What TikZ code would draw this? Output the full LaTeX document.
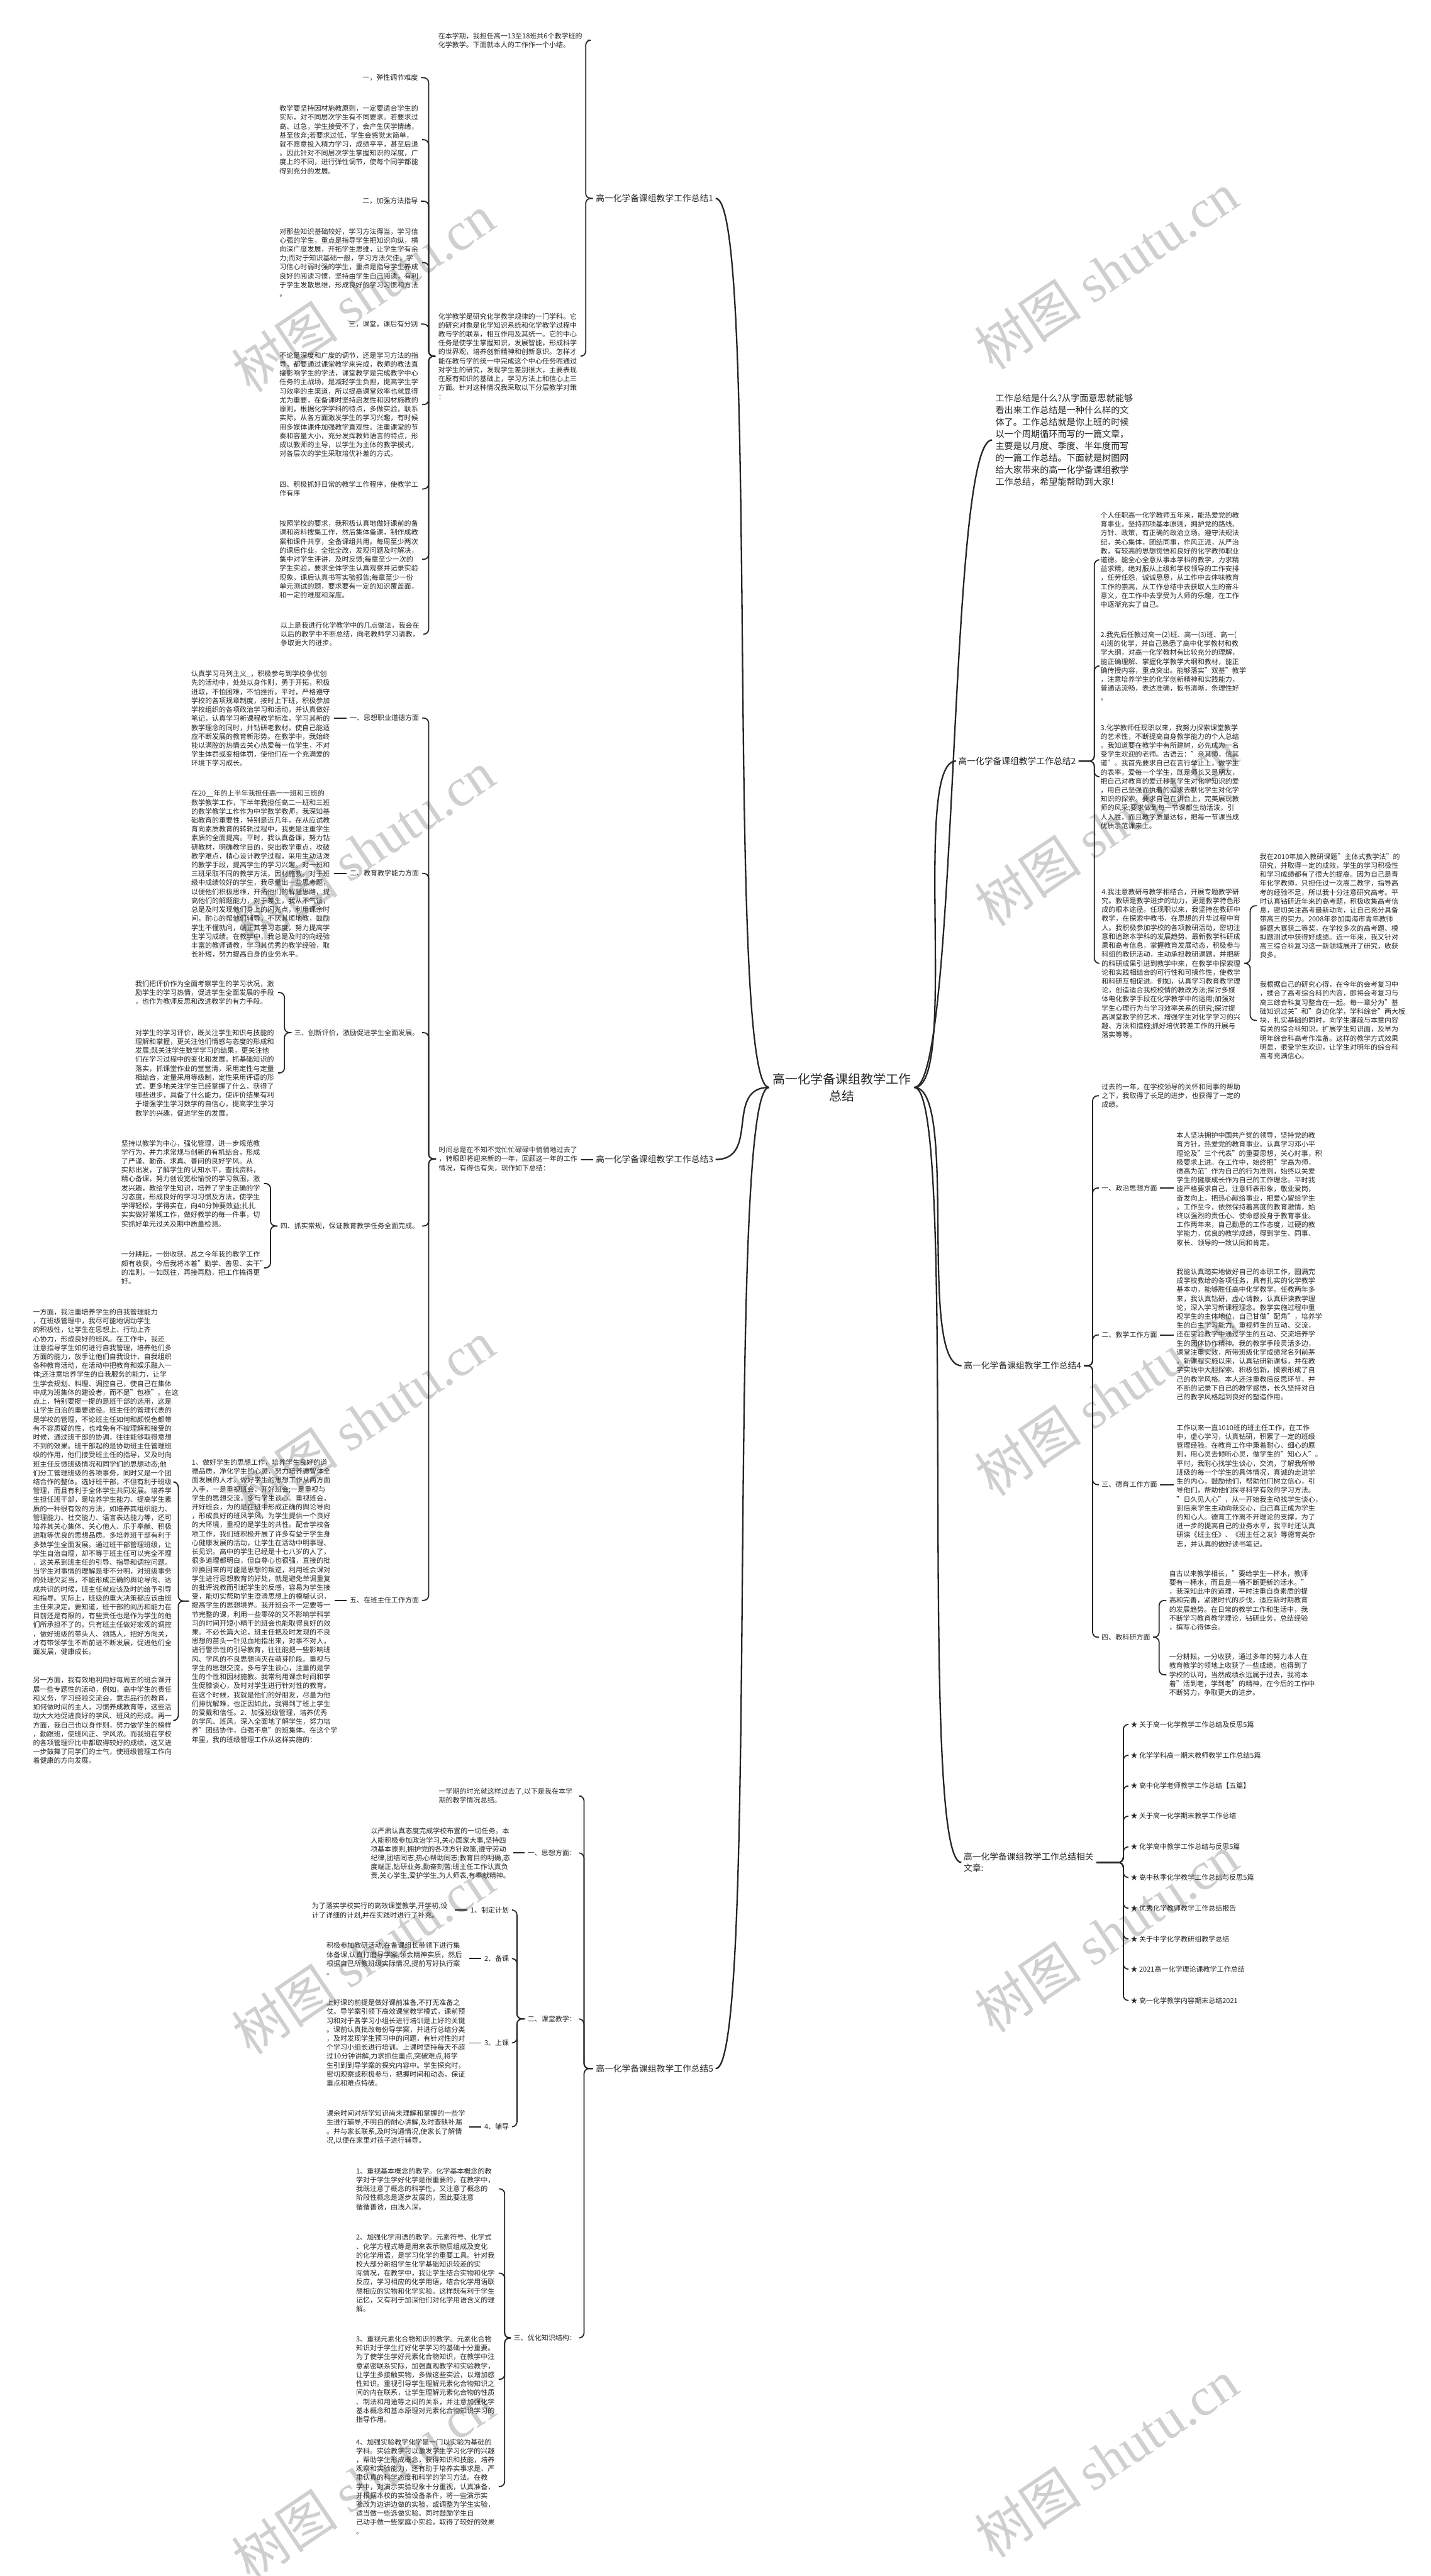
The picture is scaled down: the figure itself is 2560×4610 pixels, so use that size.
\documentclass[tikz,border=0pt]{standalone}
\usepackage{fontspec}
\setmainfont{Noto Sans CJK SC}
\newfontfamily\wmlat{Liberation Serif}
\usetikzlibrary{calc}
\newcommand\brL[3]{\draw[brk] let \p1=(#1.west), \p2=(#2.east) in (\x1-5pt,\y1) -- (#3pt,\y1) |- (\x2+5pt,\y2);}
\newcommand\brR[3]{\draw[brk] let \p1=(#1.east), \p2=(#2.west) in (\x1+5pt,\y1) -- (#3pt,\y1) |- (\x2-5pt,\y2);}
\newcommand\hL[2]{\draw[brk] let \p1=(#1.west), \p2=(#2.east) in (\x1-5pt,\y1) -- (\x2+5pt,\y1);}
\newcommand\hR[2]{\draw[brk] let \p1=(#1.east), \p2=(#2.west) in (\x1+5pt,\y1) -- (\x2-5pt,\y1);}
\begin{document}
\begin{tikzpicture}[x=1pt,y=-1pt,
 blk/.style={anchor=north west,inner sep=0pt,text width=250pt,align=left,font=\fontsize{12.4}{16}\selectfont,text=black!85},
 lab/.style={inner sep=0pt,font=\fontsize{12.4}{16}\selectfont,text=black!85},
 lvl/.style={inner sep=0pt,font=\fontsize{15.5}{20}\selectfont,text=black!85},
 ctrs/.style={inner sep=6pt,align=center,font=\fontsize{22.5}{30}\selectfont,text=black!85},
 brk/.style={draw=black!85,line width=2pt,rounded corners=9pt},
 mainc/.style={draw=black!85,line width=2.6pt},
 wm/.style={text=black!19,rotate=34,inner sep=0pt,font=\fontsize{96}{96}\selectfont}]
\useasboundingbox (0,0) rectangle (2560,4610);
\fill[white] (0,0) rectangle (2560,4610);
% watermarks
\foreach \wy in {525,1520,2540,3500,4440}{
  \node[wm] at (650,\wy) {树图 {\wmlat shutu.cn}};
  \node[wm] at (1980,\wy-40) {树图 {\wmlat shutu.cn}};
}
% centre
\node[ctrs] (ctr) at (1506,1946) {高一化学备课组教学工作\\总结};
% ================= branch 1
\node[lvl,anchor=west] (L1) at (1066,355) {高一化学备课组教学工作总结1};
\node[blk,text width=262pt] (b1i) at (784,58) {在本学期，我担任高一13至18班共6个教学班的\\化学教学。下面就本人的工作作一个小结。};
\node[blk] (chem) at (784,560) {化学教学是研究化学教学规律的一门学科。它\\的研究对象是化学知识系统和化学教学过程中\\教与学的联系，相互作用及其统一。它的中心\\任务是使学生掌握知识，发展智能，形成科学\\的世界观，培养创新精神和创新意识。怎样才\\能在教与学的统一中完成这个中心任务呢通过\\对学生的研究，发现学生差别很大，主要表现\\在原有知识的基础上，学习方法上和信心上三\\方面。针对这种情况我采取以下分层教学对策\\：};
\node[lab,anchor=east] (s1) at (748,139) {一，弹性调节难度};
\node[blk] (ba) at (500,188) {教学要坚持因材施教原则，一定要适合学生的\\实际，对不同层次学生有不同要求。若要求过\\高、过急，学生接受不了，会产生厌学情绪，\\甚至放弃;若要求过低，学生会感觉太简单，\\就不愿意投入精力学习，成绩平平，甚至后退\\。因此针对不同层次学生掌握知识的深度，广\\度上的不同，进行弹性调节，使每个同学都能\\得到充分的发展。};
\node[lab,anchor=east] (s2) at (748,360) {二，加强方法指导};
\node[blk] (bb) at (500,408) {对那些知识基础较好，学习方法得当，学习信\\心强的学生，重点是指导学生把知识向纵，横\\向深广度发展，开拓学生思维，让学生学有余\\力;而对于知识基础一般，学习方法欠佳，学\\习信心时弱时强的学生，重点是指导学生养成\\良好的阅读习惯，坚持由学生自己阅读，有利\\于学生发散思维，形成良好的学习习惯和方法\\。};
\node[lab,anchor=east] (s3) at (748,580) {三，课堂，课后有分别};
\node[blk] (bc) at (500,630) {不论是深度和广度的调节，还是学习方法的指\\导，都要通过课堂教学来完成，教师的教法直\\接影响学生的学法，课堂教学是完成教学中心\\任务的主战场，是减轻学生负担，提高学生学\\习效率的主渠道，所以提高课堂效率也就显得\\尤为重要，在备课时坚持启发性和因材施教的\\原则，根据化学学科的待点，多做实验，联系\\实际，从各方面激发学生的学习兴趣，有时候\\用多媒体课件加强教学直观性。注重课堂的节\\奏和容量大小，充分发挥教师语言的特点，形\\成以教师的主导，以学生为主体的教学模式，\\对各层次的学生采取培优补差的方式。};
\node[blk] (s4) at (500,861) {四、积极抓好日常的教学工作程序，使教学工\\作有序};
\node[blk] (bd) at (500,931) {按照学校的要求，我积极认真地做好课前的备\\课和资料搜集工作，然后集体备课，制作成教\\案和课件共享，全备课组共用。每周至少两次\\的课后作业，全批全改，发现问题及时解决，\\集中对学生评讲，及时反馈;每章至少一次的\\学生实验，要求全体学生认真观察并记录实验\\现象，课后认真书写实验报告;每章至少一份\\单元测试的题，要求要有一定的知识覆盖面，\\和一定的难度和深度。};
\node[blk] (be) at (502,1113) {以上是我进行化学教学中的几点做法，我会在\\以后的教学中不断总结，向老教师学习请教，\\争取更大的进步。};
\draw[mainc] (ctr.west) .. controls +(-80,0) and +(80,0) .. ([xshift=4pt]L1.east);
\brL{L1}{b1i}{1048}
\brL{L1}{chem}{1048}
\foreach \c in {s1,ba,s2,bb,s3,bc,s4,bd,be}{\brL{chem}{\c}{767}}
% ================= branch 3
\node[lvl,anchor=west] (L3) at (1066,2075) {高一化学备课组教学工作总结3};
\node[blk] (t) at (785,2052) {时间总是在不知不觉忙忙碌碌中悄悄地过去了\\，转眼即将迎来新的一年，回顾这一年的工作\\情况，有得也有失，现作如下总结：};
\draw[mainc] (ctr.west) .. controls +(-80,0) and +(80,0) .. ([xshift=4pt]L3.east);
\hL{L3}{t}
\node[lab,anchor=east] (m1) at (750,1285) {一、思想职业道德方面};
\node[blk] (m1b) at (342,1200) {认真学习马列主义\_，积极参与到学校争优创\\先的活动中，处处以身作则，勇于开拓，积极\\进取，不怕困难，不怕挫折。平时，严格遵守\\学校的各项规章制度，按时上下班，积极参加\\学校组织的各项政治学习和活动，并认真做好\\笔记，认真学习新课程教学标准，学习其新的\\教学理念的同时，并钻研老教材，使自己能适\\应不断发展的教育新形势。在教学中，我始终\\能以满腔的热情去关心热爱每一位学生，不对\\学生体罚或变相体罚，使他们在一个充满爱的\\环境下学习成长。};
\node[lab,anchor=east] (m2) at (750,1563) {二、教育教学能力方面};
\node[blk] (m2b) at (342,1414) {在20\_\_年的上半年我担任高一一班和三班的\\数学教学工作，下半年我担任高二一班和三班\\的数学教学工作作为中学数学教师，我深知基\\础教育的重要性，特别是近几年，在从应试教\\育向素质教育的转轨过程中，我更是注重学生\\素质的全面提高。平时，我认真备课，努力钻\\研教材，明确教学目的，突出教学重点，攻破\\教学难点，精心设计教学过程，采用生动活泼\\的教学手段，提高学生的学习兴趣。对一班和\\三班采取不同的教学方法，因材施教。对于班\\级中成绩较好的学生，我尽量出一些思考题，\\以便他们积极思维，开拓他们的解题思路，提\\高他们的解题能力，对于差生，我从不气馁，\\总是及时发现他们身上的闪光点，利用课余时\\间，耐心的帮他们辅导，不厌其烦地教，鼓励\\学生不懂就问，端正其学习态度，努力提高学\\生学习成绩。在教学中，我总是及时的向经验\\丰富的教师请教，学习其优秀的教学经验，取\\长补短，努力提高自身的业务水平。};
\node[lab,anchor=east] (m3) at (750,1848) {三、创新评价，激励促进学生全面发展。};
\node[blk] (m3a) at (242,1754) {我们把评价作为全面考察学生的学习状况，激\\励学生的学习热情，促进学生全面发展的手段\\，也作为教师反思和改进教学的有力手段。};
\node[blk] (m3b) at (242,1842) {对学生的学习评价，既关注学生知识与技能的\\理解和掌握，更关注他们情感与态度的形成和\\发展;既关注学生数学学习的结果，更关注他\\们在学习过程中的变化和发展。抓基础知识的\\落实，抓课堂作业的堂堂清，采用定性与定量\\相结合，定量采用等级制，定性采用评语的形\\式，更多地关注学生已经掌握了什么，获得了\\哪些进步，具备了什么能力。使评价结果有利\\于增强学生学习数学的自信心，提高学生学习\\数学的兴趣，促进学生的发展。};
\node[lab,anchor=east] (m4) at (750,2194) {四、抓实常规，保证教育教学任务全面完成。};
\node[blk] (m4a) at (217,2040) {坚持以教学为中心，强化管理，进一步规范教\\学行为，并力求常规与创新的有机结合，形成\\了严谨、勤奋、求真、善问的良好学风。从\\实际出发，了解学生的认知水平，查找资料，\\精心备课，努力创设宽松愉悦的学习氛围，激\\发兴趣，教给学生知识，培养了学生正确的学\\习态度，形成良好的学习习惯及方法，使学生\\学得轻松，学得实在，向40分钟要效益;扎扎\\实实做好常规工作，做好教学的每一件事，切\\实抓好单元过关及期中质量检测。};
\node[blk] (m4b) at (217,2239) {一分耕耘，一份收获。总之今年我的教学工作\\颇有收获，今后我将本着"勤学、善思、实干"\\的准则，一如既往，再接再励，把工作搞得更\\好。};
\node[lab,anchor=east] (m5) at (750,2864) {五、在班主任工作方面};
\node[blk] (m5b) at (343,2611) {1、做好学生的思想工作，培养学生良好的道\\德品质，净化学生的心灵，努力培养德智体全\\面发展的人才。做好学生的思想工作从两方面\\入手，一是重视班会，开好班会;一是重视与\\学生的思想交流，多与学生谈心。重视班会，\\开好班会，为的是在班中形成正确的舆论导向\\，形成良好的班风学风，为学生提供一个良好\\的大环境，重视的是学生的共性。配合学校各\\项工作，我们班积极开展了许多有益于学生身\\心健康发展的活动，让学生在活动中明事理、\\长见识。高中的学生已经是十七八岁的人了，\\很多道理都明白，但自尊心也很强，直接的批\\评换回来的可能是思想的叛逆，利用班会课对\\学生进行思想教育的好处，就是避免单调重复\\的批评说教而引起学生的反感，容易为学生接\\受，能切实帮助学生澄清思想上的模糊认识，\\提高学生的思想境界。我开班会不一定要等一\\节完整的课，利用一些零碎的又不影响学科学\\习的时间开短小精干的班会也能取得良好的效\\果。不必长篇大论，班主任把及时发现的不良\\思想的苗头一针见血地指出来，对事不对人，\\进行警示性的引导教育，往往能把一些影响班\\风、学风的不良思想消灭在萌芽阶段。重视与\\学生的思想交流，多与学生谈心，注重的是学\\生的个性和因材施教。我常利用课余时间和学\\生促膝谈心，及时对学生进行针对性的教育。\\在这个时候，我就是他们的好朋友，尽量为他\\们排忧解难，也正因如此，我得到了班上学生\\的爱戴和信任。2、加强班级管理，培养优秀\\的学风、班风，深入全面地了解学生，努力培\\养"团结协作，自强不息"的班集体。在这个学\\年里，我的班级管理工作从这样实施的：};
\node[blk] (m5c) at (59,2342) {一方面，我注重培养学生的自我管理能力\\，在班级管理中，我尽可能地调动学生\\的积极性，让学生在思想上、行动上齐\\心协力，形成良好的班风。在工作中，我还\\注意指导学生如何进行自我管理，培养他们多\\方面的能力，放手让他们自我设计、自我组织\\各种教育活动，在活动中把教育和娱乐融入一\\体;还注意培养学生的自我服务的能力，让学\\生学会规划、料理、调控自己，使自己在集体\\中成为班集体的建设者，而不是"包袱"。在这\\点上，特别要提一提的是班干部的选用，这是\\让学生自治的重要途径。班主任的管理代表的\\是学校的管理，不论班主任如何和颜悦色都带\\有不容质疑的性，也难免有不被理解和接受的\\时候，通过班干部的协调，往往能够取得意想\\不到的效果。班干部起的是协助班主任管理班\\级的作用，他们接受班主任的指导，又及时向\\班主任反馈班级情况和同学们的思想动态;他\\们分工管理班级的各项事务，同时又是一个团\\结合作的整体。选好班干部，不但有利于班级\\管理，而且有利于全体学生共同发展。培养学\\生担任班干部，是培养学生能力、提高学生素\\质的一种很有效的方法，如培养其组织能力、\\管理能力、社交能力、语言表达能力等，还可\\培养其关心集体、关心他人、乐于奉献、积极\\进取等优良的思想品质。多培养班干部有利于\\多数学生全面发展。通过班干部管理班级，让\\学生自治自理，却不等于班主任可以完全不理\\，这关系到班主任的引导、指导和调控问题。\\当学生对事情的理解是非不分明，对班级事务\\的处理欠妥当，不能形成正确的舆论导向、达\\成共识的时候，班主任就应该及时的给予引导\\和指导。实际上，班级的重大决策都应该由班\\主任来决定。要知道，班干部的阅历和能力在\\目前还是有限的，有些责任也是作为学生的他\\们所承担不了的。只有班主任做好宏观的调控\\，做好班级的带头人、领路人，把好方向关，\\才有带领学生不断前进不断发展，促进他们全\\面发展，健康成长。};
\node[blk] (m5d) at (59,3001) {另一方面，我有效地利用好每周五的班会课开\\展一些专题性的活动，例如，高中学生的责任\\和义务，学习经验交流会，意志品行的教育，\\如何做时间的主人，习惯养成教育等，这些活\\动大大地促进良好的学风、班风的形成。再一\\方面，我自己也以身作则，努力做学生的榜样\\，勤跟班，使班风正、学风浓。而我班在学校\\的各项管理评比中都取得较好的成绩，这又进\\一步鼓舞了同学们的士气，使班级管理工作向\\着健康的方向发展。};
\foreach \c in {m1,m2,m3,m4,m5}{\brL{t}{\c}{767}}
\hL{m1}{m1b}
\hL{m2}{m2b}
\brL{m3}{m3a}{509}
\brL{m3}{m3b}{509}
\brL{m4}{m4a}{484}
\brL{m4}{m4b}{484}
\hL{m5}{m5b}
\brL{m5b}{m5c}{319}
\brL{m5b}{m5d}{319}
% ================= branch 5
\node[lvl,anchor=west] (L5) at (1066,3702) {高一化学备课组教学工作总结5};
\draw[mainc] (ctr.west) .. controls +(-80,0) and +(80,0) .. ([xshift=4pt]L5.east);
\node[blk] (n0) at (785,3200) {一学期的时光就这样过去了,以下是我在本学\\期的教学情况总结。};
\node[lab,anchor=east] (n1) at (1031,3316) {一、思想方面：};
\node[blk] (n1b) at (663,3271) {以严肃认真态度完成学校布置的一切任务。本\\人能积极参加政治学习,关心国家大事,坚持四\\项基本原则,拥护党的各项方针政策,遵守劳动\\纪律,团结同志,热心帮助同志;教育目的明确,态\\度端正,钻研业务,勤奋刻苦;班主任工作认真负\\责,关心学生,爱护学生,为人师表,有奉献精神。};
\node[lab,anchor=east] (n2) at (1031,3613) {二、课堂教学：};
\node[lab,anchor=east] (n21) at (911,3418) {1、制定计划};
\node[blk] (n21b) at (558,3405) {为了落实学校实行的高效课堂教学,开学初,设\\计了详细的计划,并在实践时进行了补充。};
\node[lab,anchor=east] (n22) at (911,3505) {2、备课};
\node[blk] (n22b) at (584,3476) {积极参加教研活动,在备课组长带领下进行集\\体备课,认真打磨导学案,领会精神实质，然后\\根据自己所教班级实际情况,提前写好执行案\\。};
\node[lab,anchor=east] (n23) at (911,3656) {3、上课};
\node[blk] (n23b) at (584,3578) {上好课的前提是做好课前准备,不打无准备之\\仗。导学案引领下高效课堂教学模式，课前预\\习和对于各学习小组长进行培训是上好的关键\\。课前认真批改每份导学案，并进行总结分类\\，及时发现学生预习中的问题，有针对性的对\\个学习小组长进行培训。上课时坚持每天不超\\过10分钟讲解,力求抓住重点,突破难点,将学\\生引到到导学案的探究内容中。学生探究时，\\密切观察或积极参与，把握时间和动态，保证\\重点和难点特破。};
\node[lab,anchor=east] (n24) at (911,3806) {4、辅导};
\node[blk] (n24b) at (584,3776) {课余时间对所学知识尚未理解和掌握的一些学\\生进行辅导,不明白的耐心讲解,及时查缺补漏\\。并与家长联系,及时沟通情况,使家长了解情\\况,以便在家里对孩子进行辅导。};
\node[lab,anchor=east] (n3) at (1031,4184) {三、优化知识结构：};
\node[blk] (n31) at (637,3879) {1、重视基本概念的教学。化学基本概念的教\\学对于学生学好化学是很重要的，在教学中，\\我既注意了概念的科学性，又注意了概念的\\阶段性概念是逐步发展的，因此要注意\\循循善诱，由浅入深。};
\node[blk] (n32) at (637,3998) {2、加强化学用语的教学。元素符号、化学式\\、化学方程式等是用来表示物质组成及变化\\的化学用语，是学习化学的重要工具。针对我\\校大部分新招学生化学基础知识较差的实\\际情况，在教学中，我让学生结合实物和化学\\反应，学习相应的化学用语，结合化学用语联\\想相应的实物和化学实验。这样既有利于学生\\记忆，又有利于加深他们对化学用语含义的理\\解。};
\node[blk] (n33) at (637,4180) {3、重视元素化合物知识的教学。元素化合物\\知识对于学生打好化学学习的基础十分重要。\\为了使学生学好元素化合物知识，在教学中注\\意紧密联系实际，加强直观教学和实验教学，\\让学生多接触实物，多做这些实验，以增加感\\性知识。重视引导学生理解元素化合物知识之\\间的内在联系，让学生理解元素化合物的性质\\、制法和用途等之间的关系，并注意加强化学\\基本概念和基本原理对元素化合物知识学习的\\指导作用。};
\node[blk] (n34) at (637,4364) {4、加强实验教学化学是一门以实验为基础的\\学科。实验教学可以激发学生学习化学的兴趣\\，帮助学生形成概念，获得知识和技能，培养\\观察和实验能力，还有助于培养实事求是、严\\肃认真的科学态度和科学的学习方法。在教\\学中，对演示实验现象十分重视，认真准备，\\并根据本校的实验设备条件，将一些演示实\\验改为边讲边做的实验，或调整为学生实验，\\适当做一些选做实验。同时鼓励学生自\\己动手做一些家庭小实验，取得了较好的效果\\。};
\foreach \c in {n0,n1,n2,n3}{\brL{L5}{\c}{1045}}
\hL{n1}{n1b}
\foreach \c in {n21,n22,n23,n24}{\brL{n2}{\c}{925}}
\hL{n21}{n21b}
\hL{n22}{n22b}
\hL{n23}{n23b}
\hL{n24}{n24b}
\foreach \c in {n31,n32,n33,n34}{\brL{n3}{\c}{903}}
% ================= intro (right)
\node[anchor=north west,inner sep=0pt,text width=262pt,align=left,font=\fontsize{15.9}{21.3}\selectfont,text=black!85] (intro) at (1781,705) {工作总结是什么?从字面意思就能够\\看出来工作总结是一种什么样的文\\体了。工作总结就是你上班的时候\\以一个周期循环而写的一篇文章，\\主要是以月度、季度、半年度而写\\的一篇工作总结。下面就是树图网\\给大家带来的高一化学备课组教学\\工作总结，希望能帮助到大家!};
\draw[mainc] (ctr.east) .. controls +(80,0) and +(-80,0) .. ([xshift=-6pt]intro.west);
% ================= branch 2
\node[lvl,anchor=east] (L2) at (1925,1362) {高一化学备课组教学工作总结2};
\draw[mainc] (ctr.east) .. controls +(80,0) and +(-80,0) .. ([xshift=-4pt]L2.west);
\node[blk] (r1) at (1969,916) {个人任职高一化学教师五年来，能热爱党的教\\育事业，坚持四项基本原则，拥护党的路线、\\方针、政策，有正确的政治立场。遵守法规法\\纪，关心集体，团结同事，作风正派，从严治\\教，有较高的思想觉悟和良好的化学教师职业\\道德。能全心全意从事本学科的教学，力求精\\益求精，绝对服从上级和学校领导的工作安排\\，任劳任怨，诚诚恳恳，从工作中去体味教育\\工作的崇高，从工作总结中去获取人生的奋斗\\意义，在工作中去享受为人师的乐趣，在工作\\中逐渐充实了自己。};
\node[blk] (r2) at (1969,1130) {2.我先后任教过高一(2)班、高一(3)班、高一(\\4)班的化学，并自己熟悉了高中化学教材和教\\学大纲，对高一化学教材有比较充分的理解，\\能正确理解、掌握化学教学大纲和教材，能正\\确传授内容，重点突出。能够落实"双基"教学\\，注意培养学生的化学创新精神和实践能力，\\普通话流畅，表达准确，板书清晰，条理性好\\。};
\node[blk] (r3) at (1969,1296) {3.化学教师任现职以来，我努力探索课堂教学\\的艺术性，不断提高自身教学能力的个人总结\\。我知道要在教学中有所建树，必先成为一名\\受学生欢迎的老师。古语云："亲其师，信其\\道"。我首先要求自己在言行举止上，做学生\\的表率，爱每一个学生，既是师长又是朋友，\\把自己对教育的爱迁移到学生对化学知识的爱\\，用自己坚强而执着的追求去默化学生对化学\\知识的探索。要求自己在讲台上，完美展现教\\师的风采;要求做到每一节课都生动活泼，引\\人入胜，而且教学质量达标，把每一节课当成\\优质示范课来上。};
\node[blk] (r4) at (1971,1590) {4.我注意教研与教学相结合，开展专题教学研\\究。教研是教学进步的动力，更是教学特色形\\成的根本途径。任现职以来，我坚持在教研中\\教学，在探索中教书，在思想的升华过程中育\\人。我积极参加学校的各项教研活动，密切注\\意和追踪本学科的发展趋势、最新教学科研成\\果和高考信息，掌握教育发展动态，积极参与\\科组的教研活动，主动承担教研课题，并把新\\的科研成果引进到教学中来，在教学中探索理\\论和实践相结合的可行性和可操作性，使教学\\和科研互相促进。例如，认真学习教育教学理\\论，创造适合我校校情的教改方法;探讨多媒\\体电化教学手段在化学教学中的运用;加强对\\学生心理行为与学习效率关系的研究;探讨提\\高课堂教学的艺术，增强学生对化学学习的兴\\趣、方法和措施;抓好培优转差工作的开展与\\落实等等。};
\node[blk] (r4a) at (2254,1527) {我在2010年加入教研课题"主体式教学法"的\\研究，并取得一定的成效，学生的学习积极性\\和学习成绩都有了很大的提高。因为自己是青\\年化学教师，只担任过一次高二教学，指导高\\考的经验不足，所以我十分注意研究高考。平\\时认真钻研近年来的高考题，积极收集高考信\\息，密切关注高考最新动向，让自己充分具备\\带高三的实力。2008年参加南海市青年教师\\解题大赛获二等奖，在学校多次的高考题、模\\拟题测试中获得好成绩。近一年来，我又针对\\高三综合科复习这一新领域展开了研究，收获\\良多。};
\node[blk] (r4b) at (2254,1756) {我根据自己的研究心得，在今年的会考复习中\\，揉合了高考综合科的内容，即将会考复习与\\高三综合科复习整合在一起。每一章分为"基\\础知识过关"和"身边化学，学科综合"两大板\\块，扎实基础的同时，向学生灌疏与本章内容\\有关的综合科知识，扩展学生知识面，及早为\\明年综合科高考作准备。这样的教学方式效果\\明显，很受学生欢迎，让学生对明年的综合科\\高考充满信心。};
\foreach \c in {r1,r2,r3,r4}{\brR{L2}{\c}{1958}}
\brR{r4}{r4a}{2237}
\brR{r4}{r4b}{2237}
% ================= branch 4
\node[lvl,anchor=east] (L4) at (1935,2444) {高一化学备课组教学工作总结4};
\draw[mainc] (ctr.east) .. controls +(80,0) and +(-80,0) .. ([xshift=-4pt]L4.west);
\node[blk] (q0) at (1971,1939) {过去的一年，在学校领导的关怀和同事的帮助\\之下，我取得了长足的进步，也获得了一定的\\成绩。};
\node[lab,anchor=west] (q1) at (1971,2126) {一、政治思想方面};
\node[lab,anchor=west] (q2) at (1971,2389) {二、教学工作方面};
\node[lab,anchor=west] (q3) at (1971,2657) {三、德育工作方面};
\node[lab,anchor=west] (q4) at (1971,2930) {四、教科研方面};
\node[blk] (q1b) at (2105,2026) {本人坚决拥护中国共产党的领导，坚持党的教\\育方针，热爱党的教育事业。认真学习邓小平\\理论及"三个代表"的重要思想，关心时事，积\\极要求上进。在工作中，始终把"学高为师，\\德高为范"作为自己的行为准则，始终以关爱\\学生的健康成长作为自己的工作理念。平时我\\能严格要求自己，注意师表形象，敬业爱岗，\\奋发向上，把热心献给事业，把爱心留给学生\\。工作至今，依然保持着高度的教育激情，始\\终以强烈的责任心、使命感投身于教育事业。\\工作两年来，自己勤恳的工作态度，过硬的教\\学能力，优良的教学成绩，得到学生、同事、\\家长、领导的一致认同和肯定。};
\node[blk] (q2b) at (2105,2270) {我能认真踏实地做好自己的本职工作，圆满完\\成学校教给的各项任务，具有扎实的化学教学\\基本功，能够胜任高中化学教学。任教两年多\\来，我认真钻研，虚心请教，认真研读教学理\\论，深入学习新课程理念。教学实施过程中重\\视学生的主体地位，自己甘做"配角"，培养学\\生的自主学习能力。重视师生的互动、交流，\\还在实验教学中通过学生的互动、交流培养学\\生的团体协作精神。我的教学手段灵活多边，\\课堂注重实效，所带班级化学成绩常名列前茅\\。新课程实施以来，认真钻研新课标，并在教\\学实践中大胆探索、积极创新，摸索形成了自\\己的教学风格。本人还注重教后反思环节，并\\不断的记录下自己的教学感悟，长久坚持对自\\己的教学风格起到良好的塑造作用。};
\node[blk] (q3b) at (2105,2549) {工作以来一直1010班的班主任工作，在工作\\中，虚心学习，认真钻研，积累了一定的班级\\管理经验。在教育工作中秉着耐心、细心的原\\则，用心灵去倾听心灵，做学生的"知心人"。\\平时，我耐心找学生谈心，交流，了解我所带\\班级的每一个学生的具体情况，真诚的走进学\\生的内心，鼓励他们，帮助他们树立信心，引\\导他们，帮助他们探寻科学有效的学习方法。\\"日久见人心"，从一开始我主动找学生谈心，\\到后来学生主动向我交心，自己真正成为学生\\的知心人。德育工作离不开理论的支撑，为了\\进一步的提高自己的业务水平，我平时还认真\\研读《班主任》、《班主任之友》等德育类杂\\志，并认真的做好读书笔记。};
\node[blk] (q4a) at (2092,2810) {自古以来教学相长，"要给学生一杯水，教师\\要有一桶水，而且是一桶不断更新的活水。"\\，我深知此中的道理，平时注重自身素质的提\\高和完善，紧跟时代的步伐，适应新时期教育\\的发展趋势。在日常的教学工作和生活中，我\\不断学习教育教学理论，钻研业务，总结经验\\，撰写心得体会。};
\node[blk] (q4b) at (2092,2959) {一分耕耘，一分收获，通过多年的努力本人在\\教育教学的领地上收获了一些成绩，也得到了\\学校的认可，当然成绩永远属于过去，我将本\\着"活到老，学到老"的精神，在今后的工作中\\不断努力，争取更大的进步。};
\foreach \c in {q0,q1,q2,q3,q4}{\brR{L4}{\c}{1955}}
\hR{q1}{q1b}
\hR{q2}{q2b}
\hR{q3}{q3b}
\brR{q4}{q4a}{2074}
\brR{q4}{q4b}{2074}
% ================= related
\node[lvl,anchor=east,align=left] (rel) at (1957,3333) {高一化学备课组教学工作总结相关\\文章:};
\draw[mainc] (ctr.east) .. controls +(80,0) and +(-80,0) .. ([xshift=-4pt]rel.west);
\foreach \k/\yy/\ss in {1/3086/关于高一化学教学工作总结及反思5篇,2/3141/化学学科高一期末教师教学工作总结5篇,3/3196/高中化学老师教学工作总结【五篇】,4/3250/关于高一化学期末教学工作总结,5/3305/化学高中教学工作总结与反思5篇,6/3360/高中秋季化学教学工作总结与反思5篇,7/3415/优秀化学教师教学工作总结报告,8/3470/关于中学化学教研组教学总结,9/3524/2021高一化学理论课教学工作总结,10/3580/高一化学教学内容期末总结2021}{
  \node[lab,anchor=west] (rel\k) at (2023,\yy) {★ \ss};
}
\foreach \k in {1,...,10}{\brR{rel}{rel\k}{2010}}
\end{tikzpicture}
\end{document}
